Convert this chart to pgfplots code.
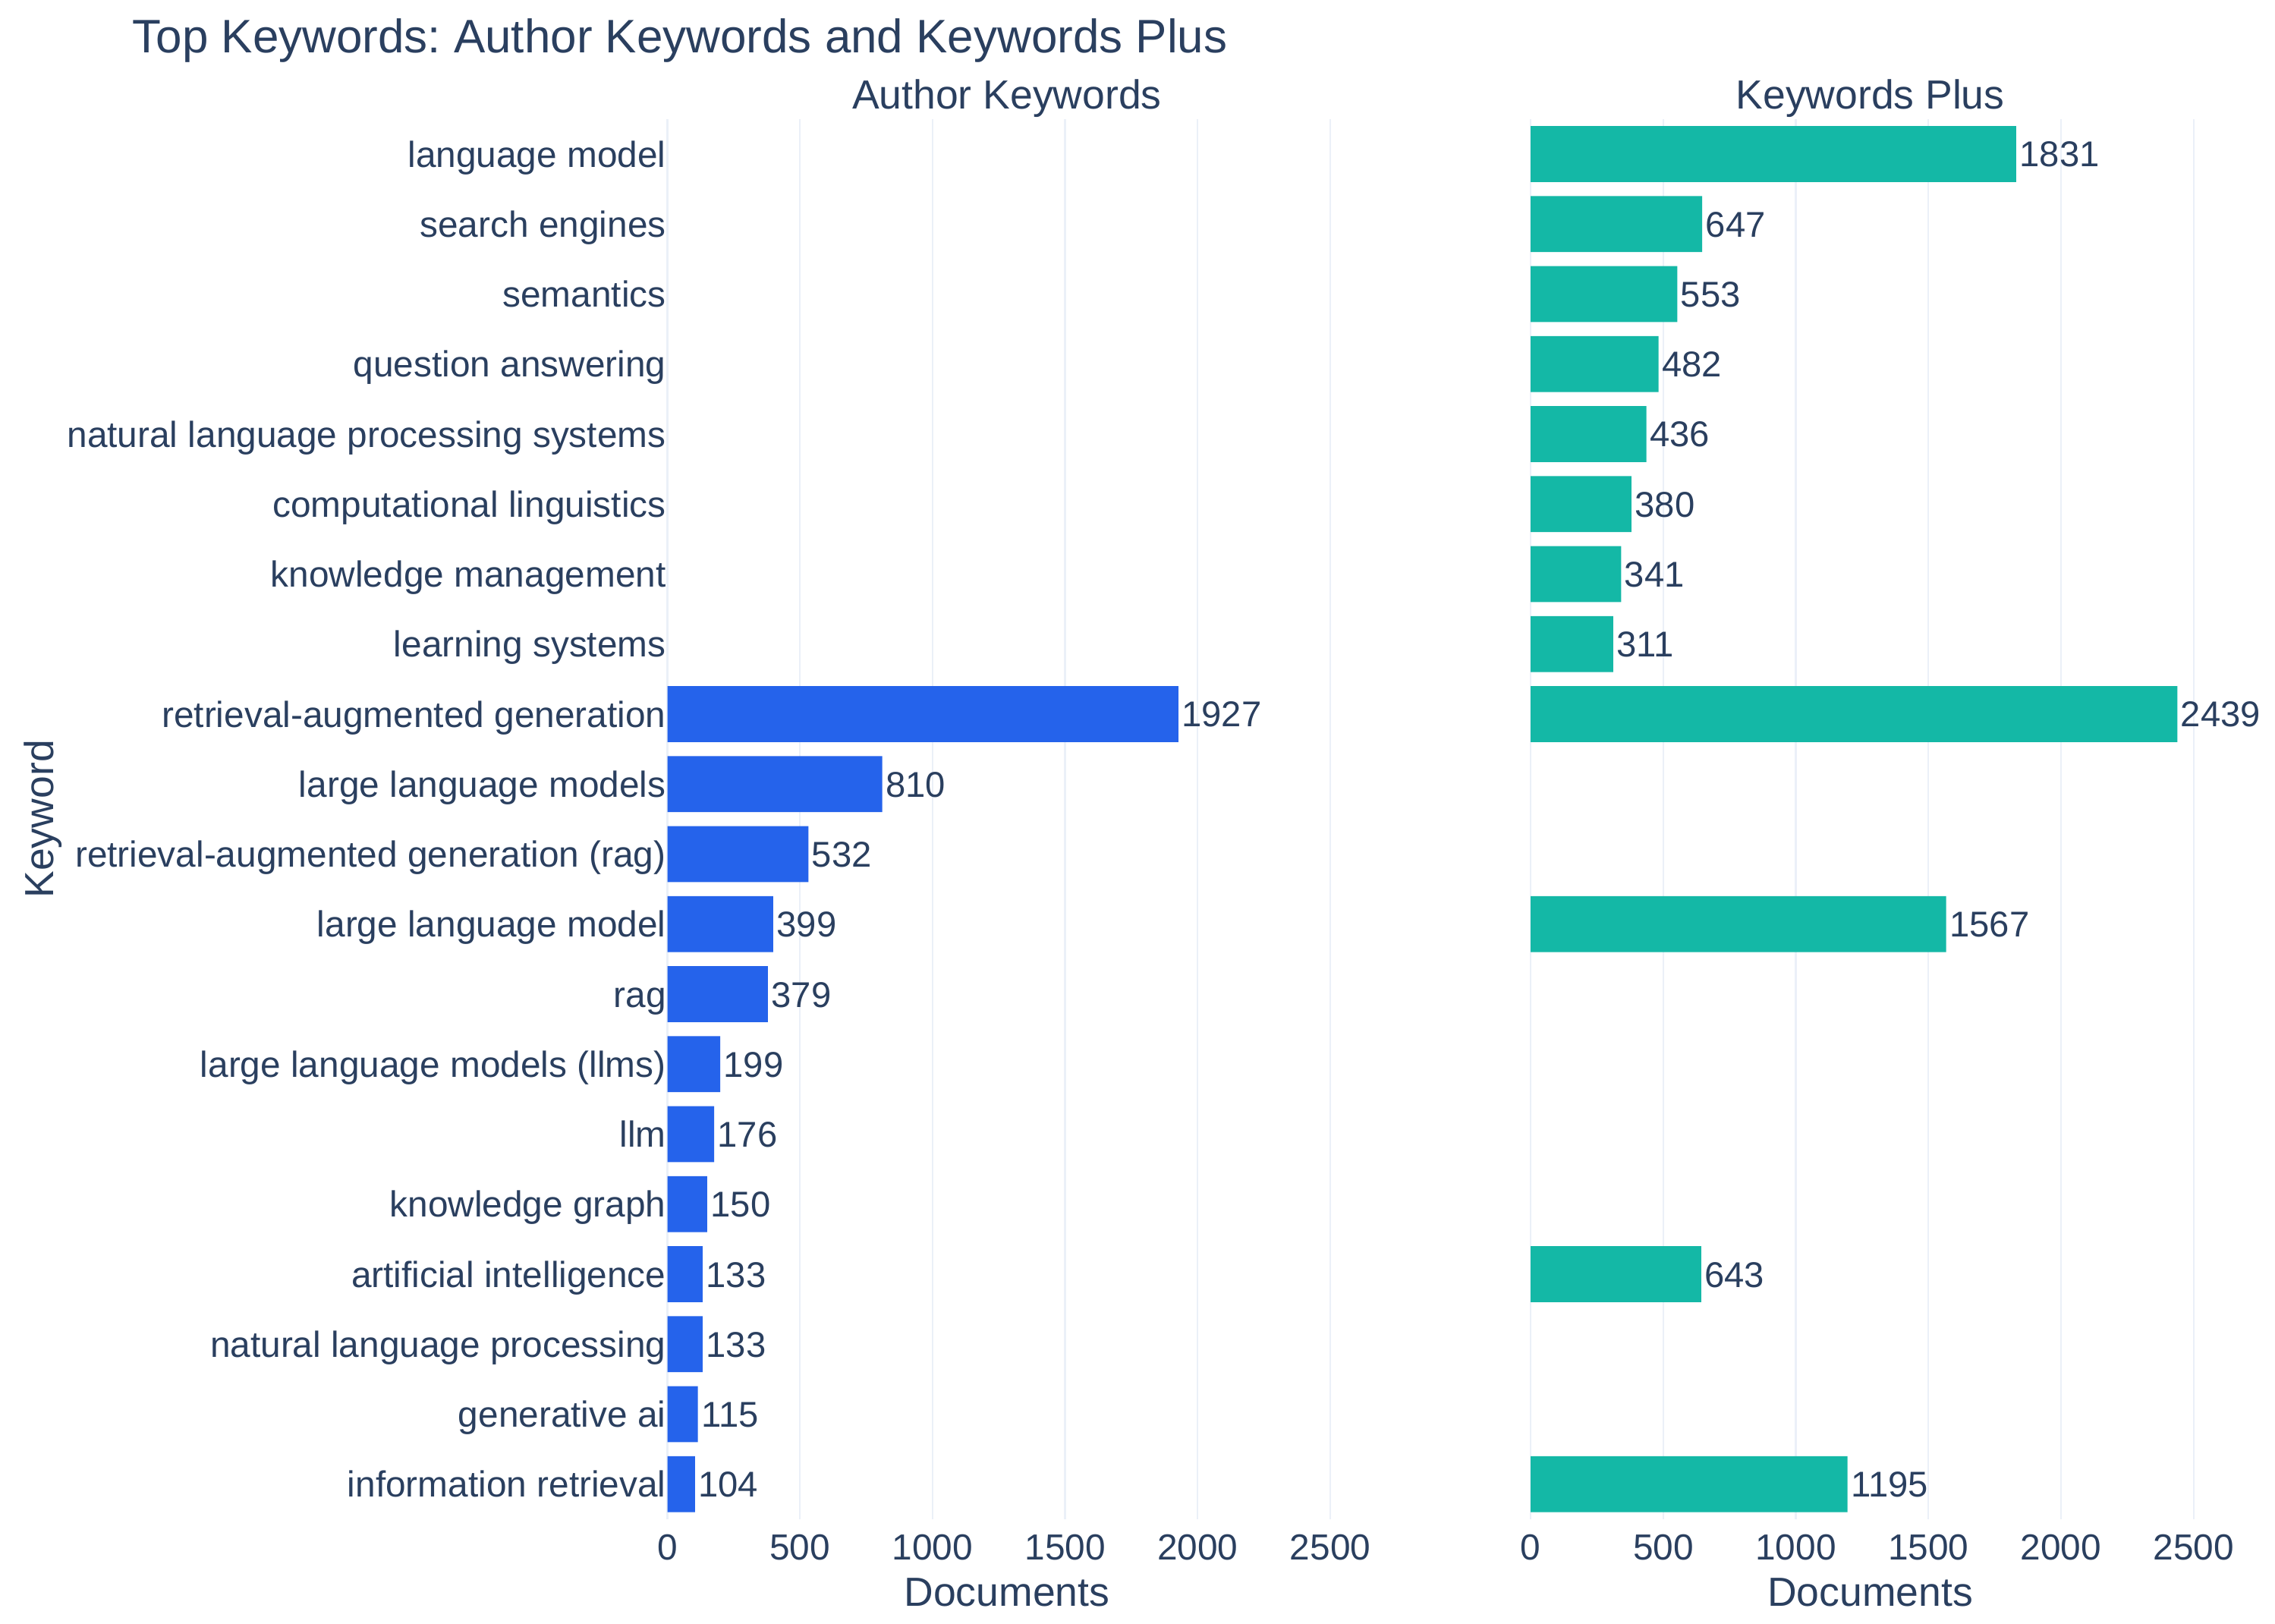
\documentclass[border=0pt]{standalone}
\usepackage{fontspec}
\setmainfont{Liberation Sans}
\usepackage{pgfplots}
\pgfplotsset{compat=1.18}
\frenchspacing
\definecolor{txt}{HTML}{2A3F5F}
\definecolor{blu}{HTML}{2563EB}
\definecolor{tealb}{HTML}{14B8A6}
\definecolor{grd}{HTML}{EBF0F8}
\pgfplotsset{common/.style={
 scale only axis, width=234pt, height=482.5pt,
 xmin=0, xmax=2561, ymin=-0.5, ymax=19.5, y dir=reverse,
 xbar, bar width=0.8,
 axis line style={draw=none}, major tick length=0,
 xtick={0,500,...,2500}, xmajorgrids, grid style={grd, line width=0.6pt},
 ytick={0,...,19},
 tick label style={font=\fontsize{12.5}{12.5}\selectfont, text=txt},
 xticklabel style={anchor=base, yshift=-14pt},
 /pgf/number format/assume math mode=true,
 /pgf/number format/1000 sep={},
 xlabel={Documents},
 xlabel style={at={(axis description cs:0.5,0)}, anchor=base, yshift=-30pt, font=\fontsize{14}{14}\selectfont, text=txt},
 title style={at={(axis description cs:0.5,1)}, anchor=base, yshift=-2.5pt, font=\fontsize{14}{14}\selectfont, text=txt},
 point meta=x,
 nodes near coords,
 nodes near coords style={anchor=base west, yshift=-4.45pt, inner xsep=1pt, font=\fontsize{12.35}{12.35}\selectfont, text=txt},
}}
\begin{document}
\begin{tikzpicture}
\path[use as bounding box] (0,0) rectangle (784pt,-559.5pt);
\node[anchor=base west, inner xsep=0pt, text=txt, font=\fontsize{16.2}{16.2}\selectfont] at (45.5pt,-18.25pt) {Top Keywords: Author Keywords and Keywords Plus};
\node[rotate=90, anchor=base, text=txt, font=\fontsize{14}{14}\selectfont] at (18.5pt,-282.25pt) {Keyword};
\begin{axis}[common, at={(230pt,-41pt)}, anchor=north west,
 title={Author Keywords},
 yticklabels={language model, search engines, semantics, question answering, natural language processing systems, computational linguistics, knowledge management, learning systems, retrieval-augmented generation, large language models, retrieval-augmented generation (rag), large language model, rag, large language models (llms), llm, knowledge graph, artificial intelligence, natural language processing, generative ai, information retrieval},
 yticklabel style={anchor=base east, yshift=-4.5pt, inner xsep=0.3pt},
]
\addplot[fill=blu, draw=none] coordinates {(1927,8) (810,9) (532,10) (399,11) (379,12) (199,13) (176,14) (150,15) (133,16) (133,17) (115,18) (104,19)};
\end{axis}
\begin{axis}[common, at={(527.5pt,-41pt)}, anchor=north west,
 title={Keywords Plus}, yticklabels={},
]
\addplot[fill=tealb, draw=none] coordinates {(1831,0) (647,1) (553,2) (482,3) (436,4) (380,5) (341,6) (311,7) (2439,8) (1567,11) (643,16) (1195,19)};
\end{axis}
\end{tikzpicture}
\end{document}
